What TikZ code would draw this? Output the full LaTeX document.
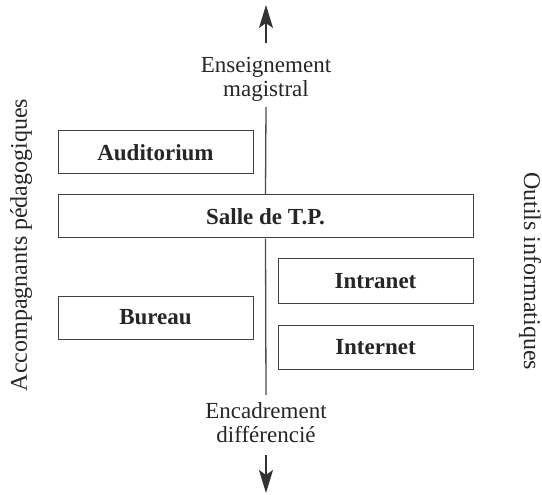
\documentclass[tikz,border=0pt]{standalone}
\usepackage{fontspec}
\setmainfont{Liberation Serif}
\usetikzlibrary{arrows.meta}
\begin{document}
\begin{tikzpicture}[x=1pt,y=1pt,
  every node/.style={font=\fontsize{23}{24}\selectfont, text=black!85},
  box/.style={draw=black!75, line width=1pt, fill=white, inner sep=0pt, font=\fontsize{23}{24}\selectfont\bfseries},
  axisline/.style={draw=black!70, line width=1.3pt},
  arrowline/.style={draw=black!80, line width=1.3pt, -{Stealth[length=23pt,width=14pt,inset=5pt]}},
  sidelabel/.style={anchor=base, inner sep=0pt, font=\fontsize{24}{25}\selectfont}]
\useasboundingbox (0,0) rectangle (542,-495);
% boxes
\node[box, minimum width=195pt, minimum height=43pt] (aud) at (155.5,-152.5) {Auditorium};
\node[box, minimum width=415pt, minimum height=43pt] (salle) at (265.5,-216.5) {Salle de T.P.};
\node[box, minimum width=195pt, minimum height=44pt] (intra) at (375.5,-281) {Intranet};
\node[box, minimum width=195pt, minimum height=43pt] (bur) at (155.5,-317.5) {Bureau};
\node[box, minimum width=195pt, minimum height=44pt] (inter) at (375.5,-347) {Internet};
% axis labels
\node[align=center, inner sep=0pt] (ens) at (266,-79) {Enseignement\\magistral};
\node[align=center, inner sep=0pt] (enc) at (266,-423) {Encadrement\\différencié};
\node[sidelabel, rotate=90] (acc) at (27,-245) {Accompagnants pédagogiques};
\node[sidelabel, rotate=-90] (out) at (524,-271) {Outils informatiques};
% axis
\coordinate (t0) at (266,-43);
\coordinate (t1) at (266,-5);
\coordinate (m0) at (266,-107);
\coordinate (m1) at (266,-395);
\coordinate (b0) at (266,-455);
\coordinate (b1) at (266,-493);
\draw[arrowline] (t0) -- (t1);
\draw[axisline] (m0) -- (salle.north);
\draw[axisline] (salle.south) -- (m1);
\draw[arrowline] (b0) -- (b1);
\end{tikzpicture}
\end{document}
